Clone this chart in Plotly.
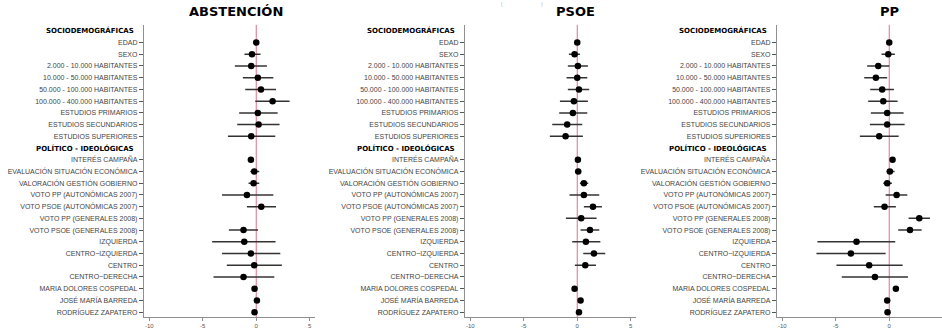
import plotly.graph_objects as go

rows = ["SOCIODEMOGRÁFICAS", "EDAD", "SEXO", "2.000 - 10.000 HABITANTES",
        "10.000 - 50.000 HABITANTES", "50.000 - 100.000 HABITANTES",
        "100.000 - 400.000 HABITANTES", "ESTUDIOS PRIMARIOS", "ESTUDIOS SECUNDARIOS",
        "ESTUDIOS SUPERIORES", "POLÍTICO - IDEOLÓGICAS", "INTERÉS CAMPAÑA",
        "EVALUACIÓN SITUACIÓN ECONÓMICA", "VALORACIÓN GESTIÓN GOBIERNO",
        "VOTO PP (AUTONÓMICAS 2007)", "VOTO PSOE (AUTONÓMICAS 2007)",
        "VOTO PP (GENERALES 2008)", "VOTO PSOE (GENERALES 2008)", "IZQUIERDA",
        "CENTRO−IZQUIERDA", "CENTRO", "CENTRO−DERECHA", "MARIA DOLORES COSPEDAL",
        "JOSÉ MARÍA BARREDA", "RODRÍGUEZ ZAPATERO"]
headers = ["SOCIODEMOGRÁFICAS", "POLÍTICO - IDEOLÓGICAS"]

titles = ["ABSTENCIÓN", "PSOE", "PP"]

est_abs = [None, 0.0, -0.4, -0.47, 0.15, 0.44, 1.53, 0.15, 0.22, -0.47, None, -0.5, -0.19, -0.25,
           -0.87, 0.47, None, -1.19, -1.12, -0.5, -0.19, -1.19, -0.16, 0.06, -0.16]
lo_abs = [None, -0.1, -1.1, -2.0, -1.25, -1.03, -0.09, -1.6, -1.78, -2.65, None, -0.78, -0.56, -0.72,
          -3.2, -0.87, None, -2.56, -4.12, -3.2, -2.75, -4.0, -0.3, -0.08, -0.3]
hi_abs = [None, 0.1, 0.4, 1.0, 1.6, 1.85, 3.12, 2.0, 2.18, 1.78, None, -0.25, 0.28, 0.28,
          1.6, 1.85, None, 0.16, 1.81, 2.25, 2.4, 1.69, 0.0, 0.2, 0.0]

est_psoe = [None, 0.0, -0.25, 0.06, 0.0, 0.16, -0.31, -0.41, -0.94, -1.09, None, 0.06, 0.09, 0.62,
            0.62, 1.47, 0.37, 1.19, 0.81, 1.56, 0.75, None, -0.25, 0.31, 0.16]
lo_psoe = [None, -0.1, -0.78, -0.88, -1.0, -0.88, -1.62, -1.69, -2.34, -2.56, None, -0.05, -0.16, 0.25,
           -0.72, 0.62, -1.06, 0.31, -0.47, 0.56, -0.22, None, -0.35, 0.2, 0.05]
hi_psoe = [None, 0.1, 0.25, 1.0, 0.94, 1.12, 1.0, 0.94, 0.47, 0.53, None, 0.17, 0.37, 1.03,
           2.06, 2.31, 1.81, 2.06, 2.16, 2.62, 1.75, None, -0.15, 0.42, 0.27]

est_pp = [None, 0.0, -0.09, -1.03, -1.25, -0.66, -0.56, -0.19, -0.19, -0.94, None, 0.31, 0.06, -0.19,
          0.69, -0.44, 2.81, 1.94, -3.06, -3.59, -1.88, -1.34, 0.62, -0.19, -0.16]
lo_pp = [None, -0.1, -0.72, -2.06, -2.34, -1.78, -1.97, -1.72, -1.81, -2.75, None, 0.2, -0.25, -0.56,
         -0.34, -1.44, 1.81, 0.84, -6.72, -6.81, -4.94, -4.44, 0.5, -0.3, -0.27]
hi_pp = [None, 0.1, 0.53, 0.0, -0.19, 0.44, 0.78, 1.34, 1.44, 0.88, None, 0.42, 0.5, 0.25,
         1.69, 0.62, 3.81, 3.03, 0.56, -0.34, 1.25, 1.75, 0.74, -0.08, -0.05]

x_ticks = [-10, -5, 0, 5]

W, H = 942, 329
panels = [(est_abs, lo_abs, hi_abs), (est_psoe, lo_psoe, hi_psoe), (est_pp, lo_pp, hi_pp)]
axis_left_px = [144, 465, 777]
px_per_unit = 10.69
title_x_px = [236, 575, 889]

fig = go.Figure()
label_font = dict(family="Liberation Sans, Arial, sans-serif", size=7, color="#444444")
head_font = dict(family="DejaVu Sans, sans-serif", size=7, color="#000000")
grey = "#8f8f8f"

tick_idx = [i for i, r in enumerate(rows) if r not in headers]
tick_txt = [rows[i] for i in tick_idx]
y_top, y_bot = 25, 319
yrange = [24.42, -0.51]

for k, (est, lo, hi) in enumerate(panels):
    sfx = "" if k == 0 else str(k + 1)
    ys, xs, plus, minus = [], [], [], []
    for i, e in enumerate(est):
        if e is None:
            continue
        ys.append(i)
        xs.append(e)
        plus.append(hi[i] - e)
        minus.append(e - lo[i])
    fig.add_trace(go.Scatter(
        x=xs, y=ys, mode="markers",
        marker=dict(color="black", size=6.5),
        error_x=dict(type="data", array=plus, arrayminus=minus, symmetric=False,
                     width=0, thickness=1.5, color="#333333"),
        xaxis="x" + sfx, yaxis="y" + sfx, showlegend=False, hoverinfo="skip"))
    left = axis_left_px[k]
    xmin = -10.5
    xmax = min(5.5, xmin + (W - left) / px_per_unit)
    right = left + (xmax - xmin) * px_per_unit
    fig.layout["xaxis" + sfx] = dict(
        domain=[left / W, min(1.0, right / W)], range=[xmin, xmax], anchor="y" + sfx,
        showline=True, linecolor=grey, linewidth=1.3, showgrid=False, zeroline=False,
        ticks="outside", ticklen=3, tickcolor=grey, tickwidth=1,
        tickvals=x_ticks, ticktext=[str(v) for v in x_ticks],
        tickfont=dict(family="Liberation Sans, Arial, sans-serif", size=6, color="#555555"))
    fig.layout["yaxis" + sfx] = dict(
        domain=[1 - y_bot / H, 1 - y_top / H], range=yrange, anchor="x" + sfx,
        showline=True, linecolor=grey, linewidth=1.3, showgrid=False, zeroline=False,
        ticks="outside", ticklen=4, tickcolor="#555555", tickwidth=1,
        tickvals=tick_idx, ticktext=tick_txt, tickfont=label_font)
    fig.add_shape(type="line", xref="x" + sfx, yref="y" + sfx + " domain",
                  x0=0, x1=0, y0=0, y1=1, line=dict(color="#e0708a", width=1), layer="below")
    for h in headers:
        fig.add_annotation(x=(left - 8) / W, y=rows.index(h), xref="paper", yref="y" + sfx,
                           text="<b>" + h + "</b>", showarrow=False, xanchor="right",
                           yanchor="middle", font=head_font)
    fig.add_annotation(x=title_x_px[k] / W, y=1 - 12 / H, xref="paper", yref="paper",
                       text="<b>" + titles[k] + "</b>", showarrow=False, xanchor="center",
                       yanchor="middle", font=dict(family="DejaVu Sans, sans-serif", size=13, color="black"))

# small fragments of an upper heading visible at the top edge
fig.add_annotation(x=502 / W, y=1.0, xref="paper", yref="paper", text="(", showarrow=False,
                   xanchor="center", yanchor="top", borderpad=0,
                   font=dict(size=5, color="#aaaaaa"))
fig.add_annotation(x=542 / W, y=1.0, xref="paper", yref="paper", text=")", showarrow=False,
                   xanchor="center", yanchor="top", borderpad=0,
                   font=dict(size=5, color="#aaaaaa"))

fig.update_layout(width=W, height=H, margin=dict(l=0, r=0, t=0, b=0),
                  paper_bgcolor="white", plot_bgcolor="white")
fig.write_html("out.html")
